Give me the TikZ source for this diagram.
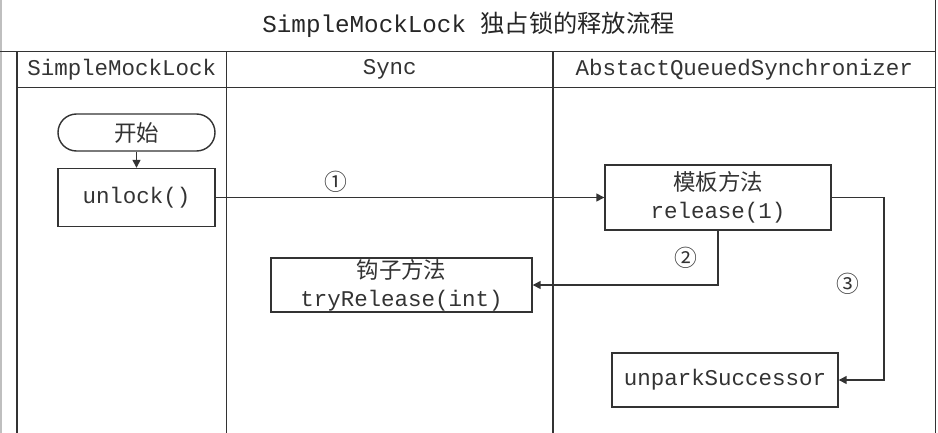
\documentclass[tikz,border=0pt]{standalone}
\usepackage{fontspec}
\setmainfont{Liberation Mono}
\newfontfamily\cjk{Noto Sans CJK SC}
\usetikzlibrary{arrows.meta}

\begin{document}
\begin{tikzpicture}[
  frame/.style={draw=black!80, line width=0.8pt},
  box/.style={draw=black!80, line width=0.8pt, align=center, inner sep=0pt, text=black!80, font=\fontsize{12.8}{15.9}\selectfont},
  lanehead/.style={text=black!80, font=\fontsize{12.8}{15.9}\selectfont},
  titletext/.style={text=black!85, font=\fontsize{13.8}{16}\selectfont},
  numlabel/.style={text=black!80, font=\cjk\fontsize{13}{15}\selectfont},
  arrow/.style={-{Triangle[length=4.5pt, width=4.5pt]}, line width=0.8pt, draw=black!80}
]
\useasboundingbox (0,0) rectangle (18.76,-8.66);

% frame and swimlanes
\draw[frame, draw=black!25] (0.02,0) -- (0.02,-8.66);
\draw[frame] (18.71,0) -- (18.71,-8.66);
\draw[frame] (0,-1.03) -- (18.71,-1.03);
\draw[frame] (0.34,-1.75) -- (18.71,-1.75);
\foreach \x in {0.34,4.53,11.06}
  \draw[frame] (\x,-1.03) -- (\x,-8.66);

\node[titletext] (title) at (9.37,-0.5) {SimpleMockLock {\cjk 独占锁的释放流程}};
\node[lanehead] (lane1) at (2.435,-1.39) {SimpleMockLock};
\node[lanehead] (lane2) at (7.795,-1.39) {Sync};
\node[lanehead] (lane3) at (14.885,-1.39) {AbstactQueuedSynchronizer};

% steps
\node[box, rounded corners=3.7mm, minimum width=31.4mm, minimum height=7.4mm] (start) at (2.73,-2.65) {\cjk 开始};
\node[box, minimum width=31.4mm, minimum height=11.6mm] (unlock) at (2.73,-3.95) {unlock()};
\node[box, minimum width=45.2mm, minimum height=13mm] (release) at (14.36,-3.95) {{\cjk 模板方法}\\release(1)};
\node[box, minimum width=52.2mm, minimum height=10.8mm] (tryrel) at (8.03,-5.7) {{\cjk 钩子方法}\\tryRelease(int)};
\node[box, minimum width=45.2mm, minimum height=10.8mm] (unpark) at (14.5,-7.6) {unparkSuccessor};

\node[numlabel] (n1) at (6.72,-3.64) {①};
\node[numlabel] (n2) at (13.72,-5.16) {②};
\node[numlabel] (n3) at (16.96,-5.68) {③};

\coordinate (turn3) at (17.68,-3.95);

\draw[arrow] (start.south) -- (unlock.north);
\draw[arrow] (unlock.east) -- (release.west);
\draw[arrow] (release.south) |- (tryrel.east);
\draw[arrow] (release.east) -- (turn3) |- (unpark.east);
\end{tikzpicture}
\end{document}
